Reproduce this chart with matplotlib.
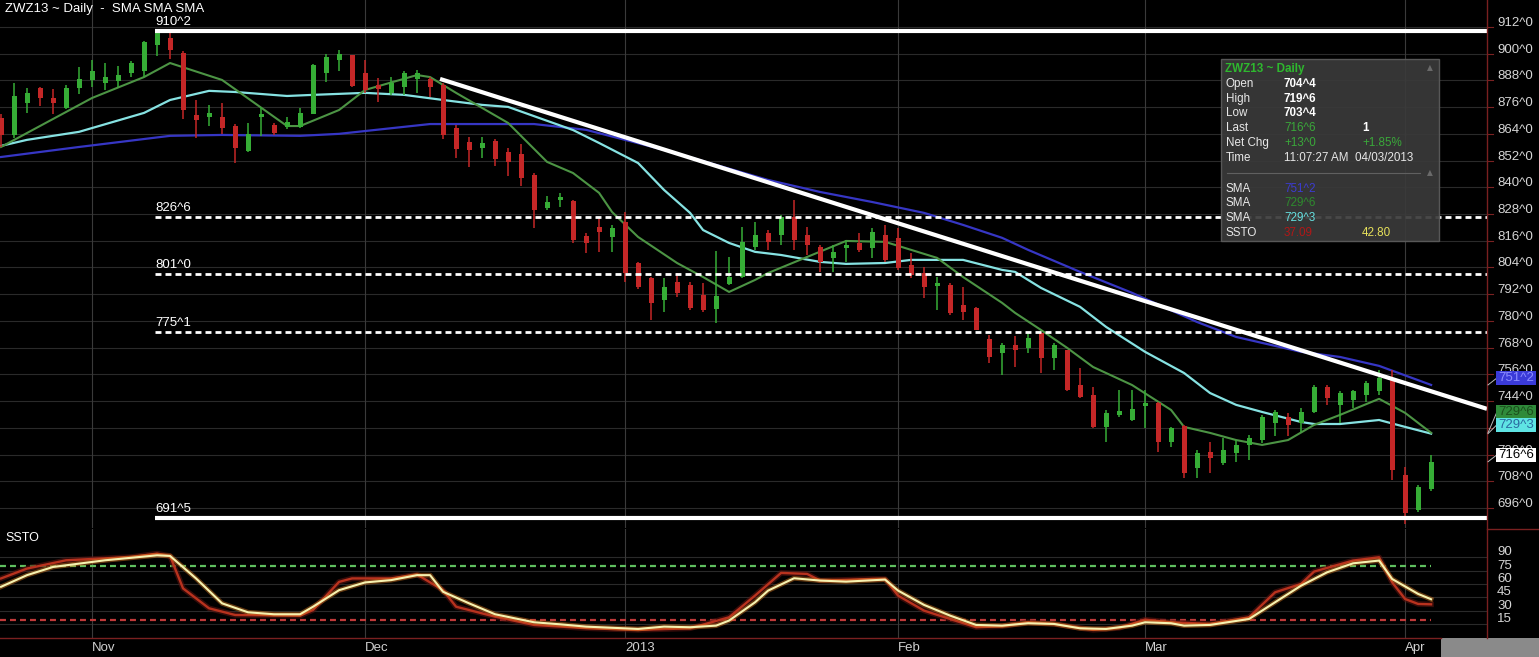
import numpy as np
import matplotlib
matplotlib.use('Agg')
import matplotlib.pyplot as plt
import matplotlib.transforms as mtrans
from matplotlib.patches import Rectangle
from matplotlib.lines import Line2D

plt.rcParams['font.family'] = ['Liberation Sans', 'DejaVu Sans']
plt.rcParams['lines.scale_dashes'] = False

# ---------------- data ----------------
month_labels = ['Nov', 'Dec', '2013', 'Feb', 'Mar', 'Apr']
bars_per_month = [7, 21, 20, 21, 19, 20, 3]   # Oct (partial) .. Apr

opens = [871, 863.5, 877.7, 884.5, 880, 875.5, 884.5, 888.2, 887, 887.9,
         891.5, 892.4, 903.9, 906.9, 900.5, 872.5, 871.5, 871.5, 867.5, 856.5,
         871.4, 868, 867.2, 867, 873, 891.2, 897.2, 899.4, 891.2, 886,
         882.5, 885.2, 888.5, 888.5, 886, 866.5, 860.5, 857.5, 861, 856,
         855, 845.5, 830.6, 834.3, 834, 818.2, 822.3, 817.8, 824.6, 805.9,
         799.1, 789.4, 797.6, 796.1, 791.7, 785.2, 796.6, 799.9, 813.4, 819.4,
         818.6, 826.8, 818.6, 813.4, 808.1, 812.6, 814.9, 812.6, 818.6, 817.1,
         805.1, 801.4, 795.8, 796.1, 787.2, 785.7, 771.8, 765.5, 769.2, 767.7,
         774.5, 763.3, 767, 751.3, 746.8, 732.5, 737.8, 735.5, 741.8, 743,
         725.4, 732.8, 713.8, 721.3, 716.4, 720.6, 724.3, 726.5, 734, 737,
         734, 739.3, 750.5, 742.2, 744.5, 746.8, 748.3, 754.3, 710.8, 695.1, 704.5]
highs = [873, 887, 884.6, 885.2, 884, 886, 894, 897, 896, 894.5,
         896.9, 905.8, 910.25, 909.2, 901, 879.2, 877, 878, 868.4, 869,
         876, 869, 871.7, 875.5, 895.4, 899.9, 901.7, 899.4, 897.2, 889,
         889.7, 892, 892.7, 889.4, 886.7, 868, 862.8, 862.8, 861.6, 857.5,
         859.5, 846.3, 836.1, 837.3, 834.3, 819.6, 826.5, 823.1, 829.1, 806.6,
         799.9, 799.1, 801.4, 797.6, 797, 811.6, 808.6, 822.3, 824.6, 820.9,
         827.6, 834.3, 822.3, 814.1, 814.1, 816.4, 819.4, 821.6, 823.1, 821.6,
         810.4, 804.4, 799.9, 796.9, 795.4, 786.4, 773.7, 770, 773.2, 774.5,
         775.2, 770, 767, 758.7, 750.5, 740, 749, 748.8, 749, 743.7,
         732.5, 733.3, 722, 725.8, 727.3, 726.6, 728.8, 737.8, 740, 738.8,
         740.8, 751.2, 751.2, 748.3, 749, 752.8, 758, 758, 714.6, 706.3, 719.75]
lows = [858, 862, 873.4, 876.5, 873, 875, 882, 885, 883.7, 885.2,
        889.7, 889.7, 899, 897.5, 870.6, 862, 867.5, 864, 850.8, 856,
        863.2, 863.5, 866, 866.5, 873, 887.4, 892, 884.9, 882.5, 878.5,
        881.5, 881.5, 882.2, 880.7, 861.6, 853, 849, 853, 849.6, 845,
        840.6, 821.6, 829.8, 831.3, 815, 810.4, 811, 811, 797.6, 794.2,
        780.4, 784.2, 790.9, 784.9, 784.2, 779, 796, 799.1, 812, 812,
        814.1, 812, 809.6, 802.1, 802.1, 806.6, 811.1, 808.1, 806.6, 802.9,
        799.2, 790.2, 784.9, 782.7, 780.4, 775.9, 761, 755.7, 759.5, 765.5,
        756.5, 758, 748.3, 745.3, 731.8, 725.8, 737, 735.2, 731.8, 721.3,
        723.5, 709.4, 709.4, 711.6, 715.3, 716.8, 717.6, 725, 728.1, 728.1,
        730.3, 738.5, 742.2, 734, 740.8, 743.7, 746.8, 708.6, 689, 694.3, 703.5]
closes = [863.5, 881, 882.5, 880, 877.7, 884.8, 888.5, 892, 889.7, 890.4,
          895.7, 905.4, 909.2, 901.7, 874.7, 870, 873.5, 866.5, 857.5, 864,
          872.7, 864.3, 869.5, 873.5, 895, 898.4, 899.9, 885.5, 883.7, 884,
          886.7, 891.2, 891.2, 885.2, 863.5, 857, 856.8, 859.8, 852.6, 851.5,
          844, 829.8, 833.6, 835.8, 816.4, 815.1, 820, 821.6, 801.4, 795.4,
          787.9, 795.4, 792.4, 785.7, 785, 791.2, 799.9, 815.6, 818.6, 815.6,
          826.8, 816.4, 814.1, 806.6, 811.1, 814.1, 811.9, 820.1, 807.4, 803.6,
          800.6, 795.4, 797, 783.4, 784.2, 775.9, 764, 769.2, 767, 772.2,
          763.3, 769.2, 749, 746, 732.5, 738.8, 739.6, 740.3, 743, 725.8,
          731.8, 711.6, 720.8, 718.3, 722, 724.3, 727.3, 737, 739.3, 733.3,
          739.3, 750.5, 745.2, 747.5, 748.3, 752, 754.3, 713.1, 693.6, 705.6, 716.75]

# moving averages, sampled at bar indices
sma_fast_idx = [0, 7, 11, 13, 17, 22, 23, 26, 28, 32, 33, 35, 39, 42, 44, 46, 47, 49, 52, 54,
                56, 58, 59, 62, 65, 68, 70, 72, 74, 77, 78, 80, 82, 84, 87, 90, 91, 93, 95, 97,
                99, 101, 103, 106, 108, 110]
sma_fast = [858.1, 880.1, 889.5, 895.8, 888.2, 867.5, 867.5, 874.7, 883.7, 890.4,
            889.5, 882.4, 868.9, 851.4, 846.4, 837.5, 828.9, 817.7, 806, 799.7,
            793, 798.4, 801.5, 808.7, 815.9, 815.5, 811.9, 808.3, 799.7, 788.1,
            783.6, 775.9, 767.9, 759.3, 751.2, 740, 732.4, 729.7, 726.5, 724.3,
            726.5, 733.3, 737.8, 745, 738.7, 729.75]
sma_mid_idx = [0, 2, 6, 11, 13, 16, 18, 22, 24, 28, 31, 34, 37, 39, 44, 46, 49, 51, 53, 54,
               56, 58, 60, 63, 65, 68, 70, 74, 77, 78, 80, 83, 85, 88, 91, 93, 95, 97, 100, 101,
               103, 106, 108, 110]
sma_mid = [858.6, 861.3, 864.9, 873.4, 879.2, 883.3, 882.8, 881, 881.5, 882.4,
           881.5, 879.2, 877, 876.1, 865.7, 859.9, 850.9, 838.8, 828.5, 820.8,
           815, 811, 809.6, 806.5, 805.6, 806, 807.4, 807.4, 802.9, 802,
           794.8, 786.3, 777.3, 766.1, 756.6, 747.6, 742.3, 739.1, 734.6, 733.7,
           733.7, 735.5, 732.4, 729.375]
sma_slow_idx = [0, 6, 13, 17, 23, 26, 33, 41, 45, 51, 59, 63, 67, 71, 74, 77, 79, 83, 87, 92,
                95, 100, 103, 106, 110]
sma_slow = [853.6, 858.1, 863.1, 863.5, 863.1, 864, 868.4, 868.4, 865.8, 856.8,
            843.3, 837.9, 833.4, 828.5, 823.1, 817.3, 811.9, 802, 792.6, 779.5,
            772.8, 766.1, 763.8, 759.8, 751.25]

# slow stochastic
ssto_k_idx = [0, 2, 5, 10, 12, 13, 14, 16, 18, 23, 24, 26, 27, 30, 32, 34, 35, 38, 41, 45,
              49, 53, 56, 58, 60, 62, 63, 67, 68, 69, 71, 73, 75, 77, 79, 81, 84, 86, 88, 90,
              93, 96, 98, 100, 101, 104, 106, 107, 108, 109, 110]
ssto_k = [66.2, 77.3, 86.6, 90.3, 94.1, 91.5, 55, 32.6, 25.1, 24.3,
          30.7, 62.3, 66.2, 66.2, 70.6, 53, 34.4, 23.2, 13.9, 10.2,
          8.3, 10.1, 22.5, 46.9, 72.4, 71.3, 63.8, 65.6, 65.6, 46.9,
          30, 20.6, 11.3, 12.4, 16.9, 15, 8.3, 10.5, 19.9, 16.9,
          15, 22.5, 50.6, 60, 73.9, 86.3, 90, 61.9, 43.1, 37.5, 37.09]
ssto_d_idx = [0, 2, 4, 8, 12, 13, 15, 17, 19, 21, 23, 24, 26, 28, 30, 32, 33, 34, 36, 38,
              41, 43, 45, 49, 51, 53, 55, 56, 58, 59, 61, 63, 65, 68, 69, 71, 73, 75, 77, 79,
              81, 83, 85, 87, 88, 90, 91, 93, 96, 98, 100, 102, 104, 106, 107, 109, 110]
ssto_d = [56.8, 69.9, 79.1, 86.6, 92.2, 91.5, 66.2, 38.2, 28.1, 25.9,
          25.9, 34.4, 53, 61.7, 64.3, 69.9, 69.9, 51.2, 38.2, 25.9,
          16.9, 14.6, 12, 9.4, 12, 11.3, 13.1, 18.8, 39.4, 52.5,
          66.4, 63.8, 62.6, 64.9, 52.5, 36.4, 24.4, 13.9, 13.1, 15.8,
          15, 10.1, 9.4, 13.1, 16.9, 15.8, 13.1, 13.9, 20.6, 39.4,
          58.1, 73.1, 83.2, 86.3, 65.6, 48.8, 42.8]

level_prices = [910.25, 826.75, 801.0, 775.125, 691.625]
level_labels = ['910^2', '826^6', '801^0', '775^1', '691^5']
level_dashed = [False, True, True, False, False]
level_dashed[3] = True
level_start = 12

trend_bars = [33.77, 114.3]
trend_prices = [888.65, 740.5]

price_ticks = list(range(696, 913, 12))
ssto_ticks = [90, 75, 60, 45, 30, 15]

# ---------------- figure ----------------
W, H = 1539, 657
fig = plt.figure(figsize=(W / 100, H / 100), dpi=100, facecolor='black')


def fx(x):
    return x / W


def fy(y):
    return 1 - y / H


ax = fig.add_axes([0, fy(528), fx(1487), fy(0) - fy(528)], facecolor='black')
sx = fig.add_axes([0, fy(638), fx(1487), fy(529) - fy(638)], facecolor='black')
XMAX = 114.3
for a in (ax, sx):
    a.set_xlim(-0.08, XMAX)
    a.set_xticks([])
    a.set_yticks([])
    for s in a.spines.values():
        s.set_visible(False)
ax.set_ylim(687.0, 924.1)
sx.set_ylim(-0.8, 121.8)

opens = np.array(opens)
highs = np.array(highs)
lows = np.array(lows)
closes = np.array(closes)
n = len(closes)
idx = np.arange(n)
month_starts = np.cumsum(bars_per_month)[:-1]

# grid
for p in price_ticks:
    ax.axhline(p, color='#2a2a2a', lw=0.8, zorder=0)
for v in ssto_ticks:
    sx.axhline(v, color='#2a2a2a', lw=0.8, zorder=0)
for m in month_starts:
    ax.axvline(m, color='#3a3a3a', lw=0.8, zorder=0)
    sx.axvline(m, color='#3a3a3a', lw=0.8, zorder=0)

# moving averages
ax.plot(sma_slow_idx, sma_slow, color='#3636c4', lw=1.6, zorder=2)
ax.plot(sma_mid_idx, sma_mid, color='#86e2e2', lw=1.6, zorder=2)
ax.plot(sma_fast_idx, sma_fast, color='#4c9444', lw=1.5, zorder=2)

# candles
up = closes >= opens
cols = np.where(up, '#36ad36', '#c42727')
ax.vlines(idx, lows, highs, colors=cols, lw=1.1, zorder=3)
body_lo = np.minimum(opens, closes)
body_h = np.maximum(np.abs(closes - opens), 0.8)
ax.bar(idx, body_h, bottom=body_lo, width=0.38, color=cols, linewidth=0, zorder=4)

# levels and trend line
lbl_tr = mtrans.offset_copy(ax.transData, fig=fig, x=0, y=3, units='dots')
for p, lab, dashed in zip(level_prices, level_labels, level_dashed):
    if dashed:
        ax.plot([level_start - 0.15, XMAX], [p, p], color='white', lw=2.0,
                dashes=[4.3, 2.9], zorder=5, solid_capstyle='butt')
    else:
        ax.plot([level_start - 0.15, XMAX], [p, p], color='white', lw=3.0, zorder=5,
                solid_capstyle='butt')
    ax.text(level_start - 0.15, p, lab, color='white', fontsize=9.5, ha='left',
            va='bottom', transform=lbl_tr, zorder=6)
ax.plot(trend_bars, trend_prices, color='white', lw=3.0, zorder=5, solid_capstyle='butt')

ax.text(fx(5) / fx(1487), fy(9), 'ZWZ13 ~ Daily  -  SMA SMA SMA', color='white',
        fontsize=9.5, ha='left', va='center',
        transform=mtrans.blended_transform_factory(ax.transAxes, fig.transFigure))

# stochastic panel
sx.plot([-0.08, n - 1], [80, 80], color='#5fbf5f', lw=1.6, dashes=[4.3, 2.9], zorder=1)
sx.plot([-0.08, n - 1], [20, 20], color='#c03a3a', lw=1.6, dashes=[4.3, 2.9], zorder=1)
sx.plot(ssto_k_idx, ssto_k, color='#5a1410', lw=4, alpha=0.6, zorder=2)
sx.plot(ssto_k_idx, ssto_k, color='#b8321e', lw=1.7, zorder=3)
sx.plot(ssto_d_idx, ssto_d, color='#d87a20', lw=3.5, alpha=0.45, zorder=4)
sx.plot(ssto_d_idx, ssto_d, color='#f6f2b0', lw=1.5, zorder=5)
sx.text(fx(5) / fx(1487), fy(538), 'SSTO', color='white', fontsize=9, ha='left',
        va='center', transform=mtrans.blended_transform_factory(sx.transAxes, fig.transFigure))

# right axis labels
ytr = mtrans.offset_copy(ax.get_yaxis_transform(), fig=fig, x=10, y=4, units='dots')
for p in price_ticks:
    ax.text(1.0, p, f'{p}^0', color='#d6d6d6', fontsize=9.5, ha='left', va='center',
            transform=ytr, clip_on=False)
    ax.plot([1.0, 1.0 + 6 / 1487], [p, p], color='#7a2222', lw=0.8,
            transform=ax.get_yaxis_transform(), clip_on=False)
str_ = mtrans.offset_copy(sx.get_yaxis_transform(), fig=fig, x=10, y=5, units='dots')
for v in ssto_ticks:
    sx.text(1.0, v, f'{v}', color='#d6d6d6', fontsize=9.5, ha='left', va='center',
            transform=str_, clip_on=False)

# month labels
mtr = mtrans.blended_transform_factory(sx.transData, fig.transFigure)
for m, lab in zip(month_starts, month_labels):
    sx.text(m, fy(648), lab, color='#d0d0d0', fontsize=9.5, ha='left', va='center',
            transform=mtr)

# frame lines
fig.add_artist(Line2D([fx(1487), fx(1487)], [fy(638), 1], color='#7a2020', lw=1.0))
fig.add_artist(Line2D([fx(1487), 1], [fy(529), fy(529)], color='#7a2020', lw=1.0))
fig.add_artist(Line2D([0, fx(1441)], [fy(638), fy(638)], color='#7a2020', lw=1.0))
fig.add_artist(Rectangle((fx(1441), 0), 1 - fx(1441), fy(638), transform=fig.transFigure,
                         facecolor='#8a8a8a', edgecolor='none'))

# value tags on the price axis
tags = [(sma_slow[-1], '751^2', '#3a3ad8', '#8c8cff', -7),
        (sma_fast[-1], '729^6', '#2f8a3a', '#1c4f1c', -21),
        (sma_mid[-1], '729^3', '#5fe4e4', '#2a6aa0', -9),
        (closes[-1], '716^6', 'white', 'black', -7)]
for val, lab, bg, fg, off in tags:
    yl = H - ax.transData.transform((0, val))[1]
    yt = yl + off
    fig.add_artist(Line2D([fx(1488), fx(1497)], [fy(yl), fy(yt)], color='#bbbbbb', lw=0.7))
    fig.add_artist(Rectangle((fx(1496), fy(yt + 7)), fx(40), 14 / H, transform=fig.transFigure,
                             facecolor=bg, edgecolor='none', zorder=8))
    fig.text(fx(1498), fy(yt), lab, color=fg, fontsize=9.5, ha='left', va='center', zorder=9)

# info box
fig.add_artist(Rectangle((fx(1221), fy(241)), fx(218), 182 / H, transform=fig.transFigure,
                         facecolor='#3a3a3a', edgecolor='#5c5c5c', lw=1.0, alpha=0.93, zorder=8))
fs = 8.4
fig.text(fx(1225), fy(69), 'ZWZ13 ~ Daily', color='#2eb82e', fontsize=fs,
         fontweight='bold', va='center', zorder=9)
rows = [('Open', '704^4', 'white'), ('High', '719^6', 'white'), ('Low', '703^4', 'white'),
        ('Last', '716^6', '#3aa83a'), ('Net Chg', '+13^0', '#3aa83a'),
        ('Time', '11:07:27 AM  04/03/2013', '#e6e6e6')]
row_y = [84, 99, 113, 128, 143, 158]
for (name, val, c), y in zip(rows, row_y):
    fig.text(fx(1226), fy(y), name, color='#e8e8e8', fontsize=fs, va='center', zorder=9)
    bold = 'bold' if c == 'white' else 'normal'
    fig.text(fx(1284), fy(y), val, color=c, fontsize=fs, va='center', fontweight=bold, zorder=9)
fig.text(fx(1362), fy(128), '1', color='white', fontsize=fs, fontweight='bold', va='center', zorder=9)
fig.text(fx(1362), fy(143), '+1.85%', color='#3aa83a', fontsize=fs, va='center', zorder=9)
fig.add_artist(Line2D([fx(1227), fx(1420)], [fy(173), fy(173)], color='#606060', lw=0.8, zorder=9))
for y in (68, 173):
    fig.text(fx(1430), fy(y), '\u25b2', color='#6a6a6a', fontsize=5.5, ha='center', va='center',
             family='DejaVu Sans', zorder=9)
ind = [('SMA', '751^2', '#3c3cd0'), ('SMA', '729^6', '#2e8b2e'),
       ('SMA', '729^3', '#66e0e0'), ('SSTO', '37.09', '#b01818')]
for (name, val, c), y in zip(ind, [189, 203, 218, 233]):
    fig.text(fx(1226), fy(y), name, color='#e8e8e8', fontsize=fs, va='center', zorder=9)
    fig.text(fx(1284), fy(y), val, color=c, fontsize=fs, va='center', zorder=9)
fig.text(fx(1362), fy(233), '42.80', color='#e6e05a', fontsize=fs, va='center', zorder=9)

fig.savefig('out.png', dpi=100, facecolor='black')
